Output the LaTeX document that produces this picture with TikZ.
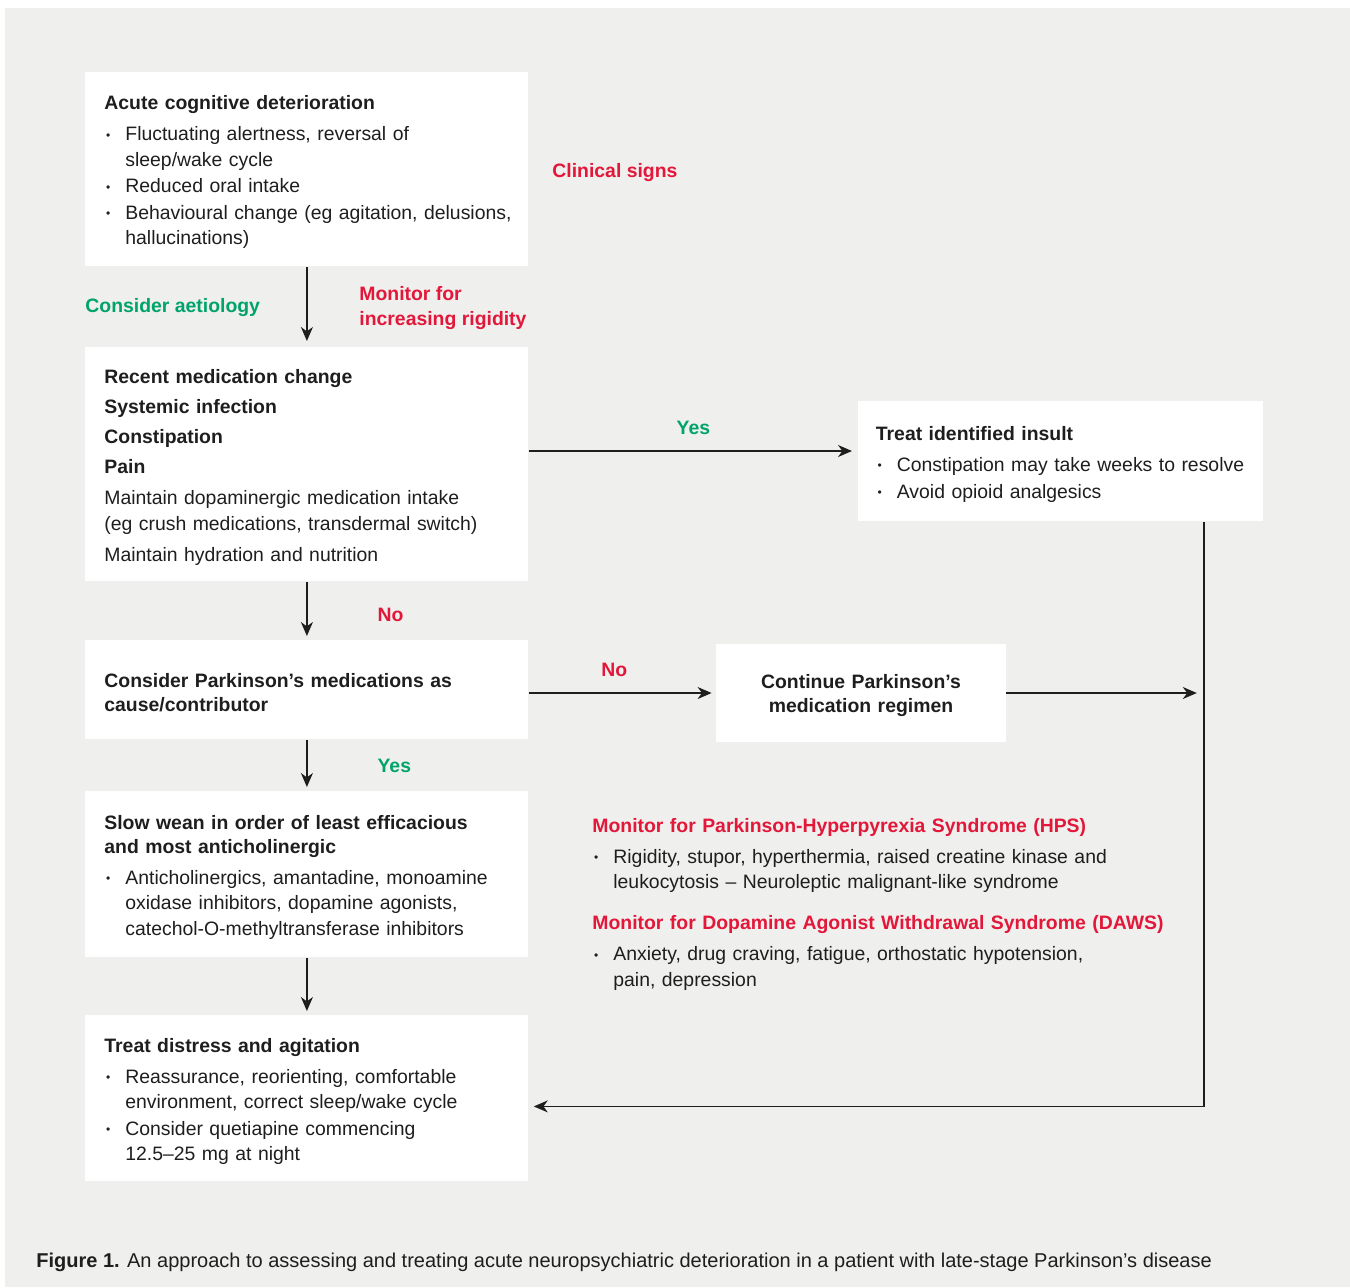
\documentclass[tikz,border=0pt]{standalone}
\usepackage{fontspec}
\setmainfont{Liberation Sans}
\usepackage{tikz}
\usetikzlibrary{arrows.meta,calc,positioning}
\usepackage{xcolor}
\definecolor{alert}{HTML}{E2173A}
\definecolor{go}{HTML}{00A36C}
\definecolor{panel}{HTML}{EFEFED}
\definecolor{ink}{HTML}{1E1E1E}
\newcommand{\basefont}{\fontsize{9.7}{12.75}\selectfont}
\newcommand{\boxtitle}[1]{{\bfseries\setlength{\baselineskip}{12pt}#1\par}\vspace{2.75pt}}
\newcommand{\bul}[1]{\par\hangindent=10.5pt\hangafter=1\noindent\makebox[10.5pt][l]{\hspace{0.8pt}\raisebox{0.9pt}{\fontsize{6}{6}\selectfont\textbullet}}#1\par}
\tikzset{
  stage/.style={fill=white, anchor=north west, inner xsep=9.5pt, inner ysep=0pt,
    text width=202.5pt, minimum width=221.5pt, align=left, text=ink,
    execute at begin node={\rule{0pt}{10pt}}},
  flow/.style={->, ink, line width=0.7pt},
  redlab/.style={alert, inner sep=0pt, font=\basefont\bfseries},
  golab/.style={go, inner sep=0pt, font=\basefont\bfseries},
  armlab/.style={inner sep=0pt, text depth=0pt, font=\basefont\bfseries}
}
\begin{document}
\begin{tikzpicture}[x=0.5pt, y=-0.5pt, >={Stealth[length=7pt,width=6pt,inset=2.2pt]}, font=\basefont]
  \fill[white] (0,0) rectangle (1350,1287);
  \fill[panel] (5,8) rectangle (1350,1287);
  \useasboundingbox (0,0) rectangle (1350,1287);

  \node[stage, minimum height=97pt] (acute) at (85,72) {%
    \boxtitle{Acute cognitive deterioration}
    \bul{Fluctuating alertness, reversal of\newline sleep/wake cycle}\vspace{0.5pt}
    \bul{Reduced oral intake}\vspace{0.5pt}
    \bul{\mbox{Behavioural change (eg agitation, delusions,}\newline hallucinations)}};
  \node[stage, minimum height=117pt] (causes) at (85,347) {%
    {\bfseries\setlength{\baselineskip}{15pt}Recent medication change\par Systemic infection\par Constipation\par Pain\par}\vspace{2.75pt}
    Maintain dopaminergic medication intake\newline (eg crush medications, transdermal switch)\par\vspace{2.75pt}
    Maintain hydration and nutrition};
  \node[stage, minimum height=49.5pt] (medcause) at (85,640) {%
    {\bfseries\setlength{\baselineskip}{12pt}Consider Parkinson's medications as\newline cause/contributor\par}};
  \node[stage, minimum height=83pt] (wean) at (85,791) {%
    \boxtitle{Slow wean in order of least efficacious\newline and most anticholinergic}
    \bul{Anticholinergics, amantadine, monoamine\newline oxidase inhibitors, dopamine agonists,\newline catechol-O-methyltransferase inhibitors}};
  \node[stage, minimum height=83pt] (distress) at (85,1015) {%
    \boxtitle{Treat distress and agitation}
    \bul{Reassurance, reorienting, comfortable\newline environment, correct sleep/wake cycle}\vspace{0.5pt}
    \bul{Consider quetiapine commencing\newline 12.5--25 mg at night}};
  \node[stage, text width=185pt, inner xsep=8.75pt, minimum width=202.5pt, minimum height=60pt] (insult) at (858,401) {%
    \boxtitle{Treat identified insult}
    \bul{\mbox{Constipation may take weeks to resolve}}\vspace{0.5pt}
    \bul{Avoid opioid analgesics}};
  \node[stage, anchor=center, text width=130pt, inner xsep=7.5pt, minimum width=145pt, minimum height=49pt, align=center] (cont) at (861,693) {%
    {\bfseries\setlength{\baselineskip}{12pt}Continue Parkinson's\\medication regimen\par}};

  \node[redlab, anchor=west] (signs) at (552,173) {Clinical signs};
  \node[golab, anchor=west] (aetiology) at (85,308) {Consider aetiology};
  \node[redlab, anchor=west, align=left] (rigidity) at (359,308) {Monitor for\\increasing rigidity};

  \node[anchor=north west, inner sep=0pt, text width=300pt, align=left, text=ink] (monitor) at (592,818) {%
    {\color{alert}\bfseries Monitor for Parkinson-Hyperpyrexia Syndrome (HPS)\par}\vspace{2.75pt}
    \bul{Rigidity, stupor, hyperthermia, raised creatine kinase and\newline leukocytosis -- Neuroleptic malignant-like syndrome}\vspace{7.75pt}
    {\color{alert}\bfseries Monitor for Dopamine Agonist Withdrawal Syndrome (DAWS)\par}\vspace{2.75pt}
    \bul{Anxiety, drug craving, fatigue, orthostatic hypotension,\newline pain, depression}};

  \coordinate (yesrow) at (0,451);
  \coordinate (rail) at ($(insult.south east)+(-60,0)$);

  \draw[flow, shorten >=3pt] (acute) -- (causes);
  \draw[flow, shorten >=2pt] (causes) -- (medcause)
    node[armlab, alert, midway, anchor=west, xshift=35pt, yshift=-2pt] (nodown) {No};
  \draw[flow, shorten >=2pt] (medcause) -- (wean)
    node[armlab, go, midway, anchor=west, xshift=35pt] (yesdown) {Yes};
  \draw[flow, shorten >=2pt] (wean) -- (distress);
  \draw[flow, shorten >=3pt] (causes.east |- yesrow) -- (insult.west |- yesrow)
    node[armlab, go, midway, above=8pt] (yesright) {Yes};
  \draw[flow, shorten >=2pt] (medcause.east |- cont.west) -- (cont.west)
    node[armlab, alert, midway, above=8pt, xshift=-4pt] (noright) {No};
  \draw[flow, shorten >=3.5pt] (cont.east) -- (cont.east -| rail);
  \draw[flow, shorten >=2.5pt] (rail) |- ($(distress.east)+(0,8)$);

  \node[anchor=west, inner sep=0pt, text=ink, font=\fontsize{10}{12}\selectfont] (caption) at (36,1262)
    {\textbf{Figure 1.} An approach to assessing and treating acute neuropsychiatric deterioration in a patient with late-stage Parkinson's disease};
\end{tikzpicture}
\end{document}
